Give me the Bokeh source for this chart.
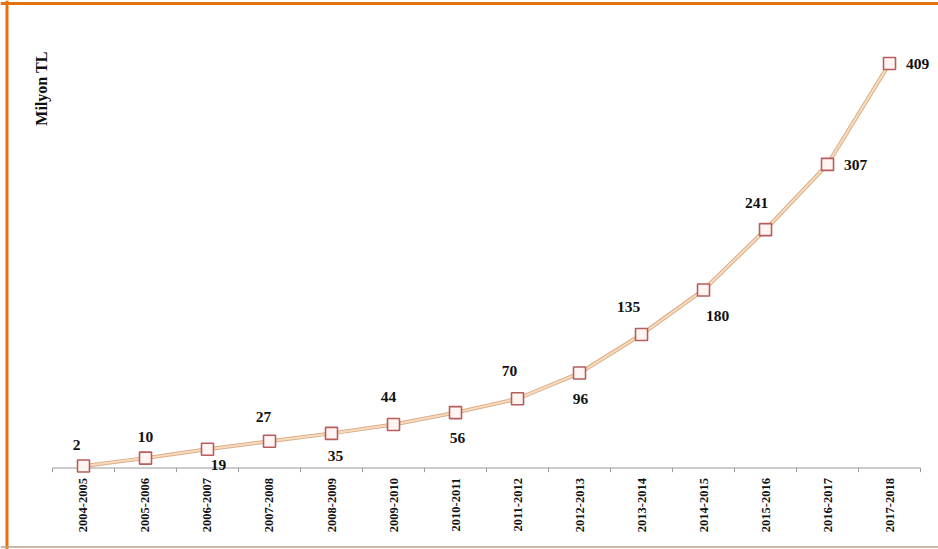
import math
from bokeh.plotting import figure
from bokeh.models import ColumnDataSource, Range1d, LabelSet, Label, Span
from bokeh.embed import file_html
from bokeh.resources import INLINE

# ---- data ----
periods = ["2004-2005", "2005-2006", "2006-2007", "2007-2008", "2008-2009",
           "2009-2010", "2010-2011", "2011-2012", "2012-2013", "2013-2014",
           "2014-2015", "2015-2016", "2016-2017", "2017-2018"]
values = [2, 10, 19, 27, 35, 44, 56, 70, 96, 135, 180, 241, 307, 409]
y_title = "Milyon TL"

# ---- label placement (screen px offsets, styling only) ----
label_dx = [-7, 0, 11, -6, 4, -5, 2, -8, 1, -13, 14, -9, 28, 28]
label_dy = [21, 21, -16, 24, -23, 27, -25, 28, -26, 27, -26, 27, -1, 0]

n = len(periods)
xs = list(range(n))
src = ColumnDataSource(dict(x=xs, y=values, txt=[str(v) for v in values],
                            dx=label_dx, dy=label_dy))
cat_src = ColumnDataSource(dict(x=xs, y=[0] * n, name=periods))
bounds = [i - 0.5 for i in range(n + 1)]
tick_src = ColumnDataSource(dict(x=bounds, y0=[0] * (n + 1), y1=[-4.2] * (n + 1)))

X0, X1 = -1.3387, 13.790
Y0, Y1 = -82.4, 472.7

p = figure(width=938, height=549,
           x_range=Range1d(X0, X1),
           y_range=Range1d(Y0, Y1),
           output_backend="svg", toolbar_location=None,
           x_axis_location=None, y_axis_location=None,
           min_border_left=0, min_border_right=0,
           min_border_top=0, min_border_bottom=0)
p.outline_line_color = None
p.background_fill_color = "white"
p.border_fill_color = "white"
p.xgrid.visible = False
p.ygrid.visible = False

# frame borders
p.add_layout(Span(location=469.7, dimension="width", line_color="#E8710F", line_width=3))
p.add_layout(Span(location=-1.2339, dimension="height", line_color="#E8710F", line_width=3))
p.add_layout(Span(location=-79.9, dimension="width", line_color="#BBA28C", line_width=1.5))

# category axis drawn in data space
p.segment(x0=bounds[0], y0=0, x1=bounds[-1], y1=0, line_color="#999999", line_width=1)
p.segment(x0="x", y0="y0", x1="x", y1="y1", source=tick_src,
          line_color="#999999", line_width=1)
cat_labels = LabelSet(x="x", y="y", text="name", source=cat_src,
                      angle=math.pi / 2, y_offset=-10,
                      text_align="right", text_baseline="middle",
                      text_font="Liberation Serif", text_font_style="bold",
                      text_font_size="12.5px", text_color="#111111")
p.add_layout(cat_labels)

p.line("x", "y", source=src, line_color="#D9AF8A", line_width=4)
p.line("x", "y", source=src, line_color="#F8DBBE", line_width=2)
p.scatter("x", "y", source=src, marker="square", size=12,
          fill_color="#FFF5F3", line_color="#B85C5C", line_width=1.6)

labels = LabelSet(x="x", y="y", text="txt", x_offset="dx", y_offset="dy",
                  source=src, text_align="center", text_baseline="middle",
                  text_font="Liberation Serif", text_font_style="bold",
                  text_font_size="15.5px", text_color="#111111")
p.add_layout(labels)

title = Label(x=-0.677, y=383.7, text=y_title, angle=math.pi / 2,
              text_align="center", text_baseline="middle",
              text_font="Liberation Serif", text_font_style="bold",
              text_font_size="16px", text_color="#111111")
p.add_layout(title)

open("out.html", "w").write(file_html(p, INLINE))
